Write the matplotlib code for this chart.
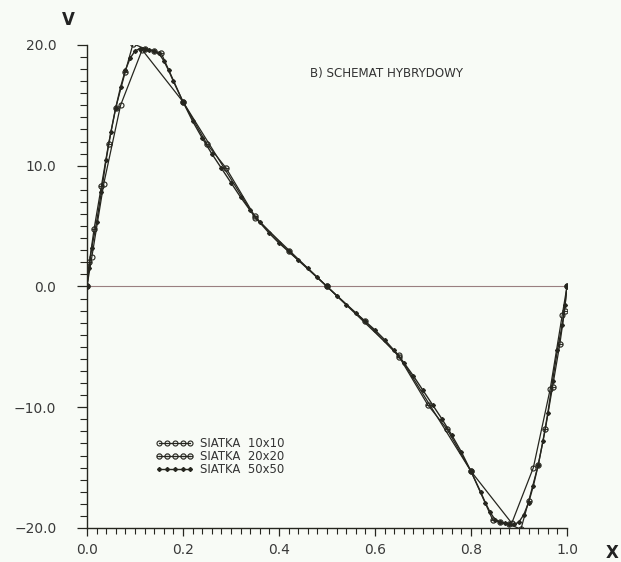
import numpy as np
import matplotlib
matplotlib.use("Agg")
import matplotlib.pyplot as plt
from matplotlib.ticker import MultipleLocator, FixedLocator

# siatka 10x10
x10 = [0.0, 0.01, 0.035, 0.07, 0.115, 0.2, 0.35, 0.5, 0.65, 0.8, 0.885, 0.93, 0.965, 0.99, 1.0]
v10 = [0.0, 2.4, 8.5, 15.0, 19.6, 15.3, 5.7, 0.0, -5.7, -15.3, -19.6, -15.0, -8.5, -2.4, 0.0]

# siatka 20x20
x20 = [0.0, 0.005, 0.015, 0.03, 0.045, 0.06, 0.08, 0.096, 0.12, 0.14, 0.155, 0.2, 0.25,
       0.29, 0.35, 0.42, 0.5, 0.58, 0.65, 0.71, 0.75, 0.8, 0.845, 0.86, 0.88, 0.904,
       0.92, 0.94, 0.955, 0.97, 0.985, 0.995, 1.0]
v20 = [0.0, 2.0, 4.8, 8.3, 11.8, 14.8, 17.8, 20.1, 19.7, 19.5, 19.3, 15.3, 11.8,
       9.8, 5.8, 2.9, 0.0, -2.9, -5.8, -9.8, -11.8, -15.3, -19.3, -19.5, -19.7, -20.1,
       -17.8, -14.8, -11.8, -8.3, -4.8, -2.0, 0.0]

# siatka 50x50
x50 = [0.0, 0.004, 0.01, 0.02, 0.03, 0.04, 0.05, 0.06, 0.07, 0.08, 0.09, 0.10, 0.11,
       0.12, 0.13, 0.14, 0.15, 0.16, 0.17, 0.18, 0.20, 0.22, 0.24, 0.26, 0.28, 0.30,
       0.32, 0.34, 0.36, 0.38, 0.40, 0.42, 0.44, 0.46, 0.48, 0.50,
       0.52, 0.54, 0.56, 0.58, 0.60, 0.62, 0.64, 0.66, 0.68, 0.70, 0.72, 0.74, 0.76,
       0.78, 0.80, 0.82, 0.83, 0.84, 0.85, 0.86, 0.87, 0.88, 0.89, 0.90, 0.91, 0.92,
       0.93, 0.94, 0.95, 0.96, 0.97, 0.98, 0.99, 0.996, 1.0]
v50 = [0.0, 1.5, 3.2, 5.3, 7.8, 10.5, 12.8, 14.8, 16.5, 17.9, 18.9, 19.5, 19.7,
       19.7, 19.6, 19.5, 19.3, 18.7, 17.9, 17.0, 15.3, 13.7, 12.3, 11.0, 9.8, 8.6,
       7.4, 6.3, 5.3, 4.4, 3.6, 2.9, 2.2, 1.5, 0.75, 0.0,
       -0.75, -1.5, -2.2, -2.9, -3.6, -4.4, -5.3, -6.3, -7.4, -8.6, -9.8, -11.0, -12.3,
       -13.7, -15.3, -17.0, -17.9, -18.7, -19.3, -19.5, -19.6, -19.7, -19.7, -19.5, -18.9, -17.9,
       -16.5, -14.8, -12.8, -10.5, -7.8, -5.3, -3.2, -1.5, 0.0]

labels = ["SIATKA  10x10", "SIATKA  20x20", "SIATKA  50x50"]
xticks = [0.0, 0.2, 0.4, 0.6, 0.8, 1.0]
xticklabels = ["0.0", "0.2", "0.4", "0.6", "0.8", "1.0"]
yticks = [-20, -10, 0, 10, 20]
yticklabels = ["\u221220.0", "\u221210.0", "0.0", "10.0", "20.0"]

ink = "#26261f"
bg = "#f8fbf6"

fig = plt.figure(figsize=(6.21, 5.62), dpi=100, facecolor=bg)
ax = fig.add_axes([0.140, 0.0605, 0.773, 0.8595])
ax.set_facecolor(bg)

ax.axhline(0, color="#9a7f80", lw=0.8, zorder=1)

ax.plot(x10, v10, color=ink, lw=0.9, marker="o", ms=3.6, mfc="none", mec=ink, mew=0.8,
        label=labels[0])
ax.plot(x20, v20, color=ink, lw=0.9, marker="$\\ominus$", ms=4.2, mec=ink, mew=0.3,
        label=labels[1])
ax.plot(x50, v50, color=ink, lw=1.0, marker="D", ms=2.0, mfc=ink, mec=ink,
        label=labels[2])

ax.set_xlim(0, 1)
ax.set_ylim(-20, 20)
for s in ["top", "right"]:
    ax.spines[s].set_visible(False)
for s in ["left", "bottom"]:
    ax.spines[s].set_color(ink)
    ax.spines[s].set_linewidth(1.0)

ax.set_xticks(xticks)
ax.set_xticklabels(xticklabels)
ax.xaxis.set_minor_locator(MultipleLocator(0.02))
ax.set_yticks(yticks)
ax.set_yticklabels(yticklabels)
ax.yaxis.set_minor_locator(MultipleLocator(1))

ax.tick_params(axis="x", which="major", length=6, width=0.9, color=ink, pad=5,
               labelsize=10, labelcolor="#3a3a3a")
ax.tick_params(axis="x", which="minor", length=4, width=0.8, color=ink)
ax.tick_params(axis="y", which="major", length=7, width=0.9, color=ink, pad=15,
               labelsize=10, labelcolor="#3a3a3a")
ax.tick_params(axis="y", which="minor", length=5, width=0.8, color=ink)

ax.text(0.465, 17.6, "B) SCHEMAT HYBRYDOWY", fontsize=8.6, color="#333333",
        ha="left", va="center")

fig.text(68 / 621, 1 - 20 / 562, "V", fontsize=12, fontweight="bold", color="#222222",
         ha="center", va="center")
fig.text(612 / 621, 1 - 553 / 562, "X", fontsize=12, fontweight="bold", color="#222222",
         ha="center", va="center")

leg = ax.legend(loc="upper left", bbox_to_anchor=(0.133, 0.198), numpoints=5,
                frameon=False, fontsize=8.4, handlelength=3.3, handletextpad=0.5,
                labelspacing=0.0, borderaxespad=0)
for t in leg.get_texts():
    t.set_color("#333333")

fig.savefig("out.png", dpi=100, facecolor=bg)
